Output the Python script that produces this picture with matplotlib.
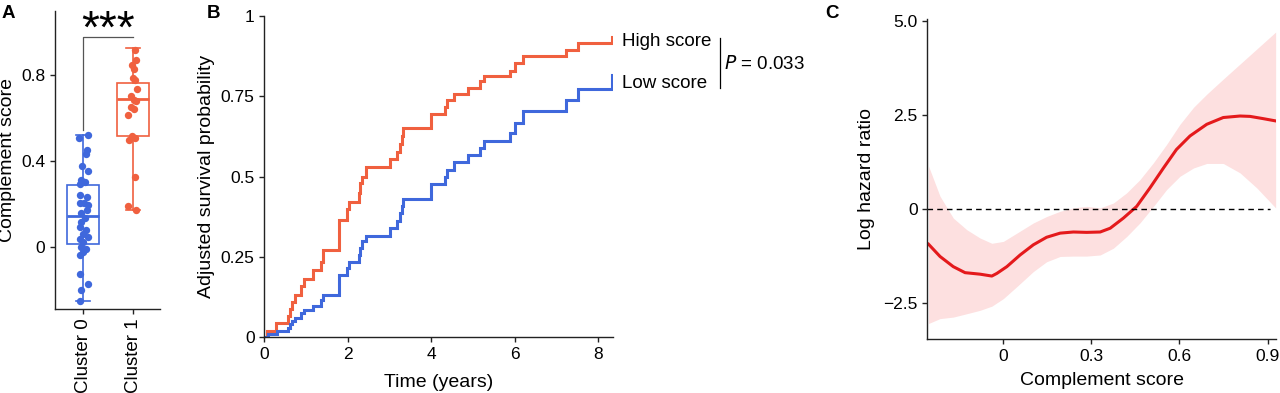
import matplotlib
matplotlib.use("Agg")
import matplotlib.pyplot as plt
import numpy as np

plt.rcParams['font.family'] = ['Liberation Sans', 'DejaVu Sans']

RED = "#F0603F"
BLUE = "#3F68DC"
CURVE_RED = "#E41A1C"
AXC = "#222222"

# ---------- Panel A data ----------
clusters = ["Cluster 0", "Cluster 1"]
c0_vals = [0.523, 0.507, 0.452, 0.434, 0.379, 0.356, 0.312, 0.304, 0.292, 0.242, 0.234,
           0.206, 0.203, 0.195, 0.172, 0.156, 0.133, 0.117, 0.094, 0.078, 0.062, 0.047,
           0.039, 0.023, 0.0, -0.012, -0.023, -0.039, -0.128, -0.175, -0.2, -0.254]
c0_jit = [0.1, -0.087, 0.08, 0.053, -0.02, 0.1, -0.047, 0.033, -0.067, -0.067, 0.08,
          -0.067, 0.013, 0.1, 0.08, -0.047, 0.033, -0.033, -0.067, 0.053, 0.0, 0.1,
          -0.067, 0.0, -0.033, 0.053, 0.0, -0.067, -0.067, 0.1, -0.033, -0.067]
c1_vals = [0.920, 0.871, 0.850, 0.832, 0.788, 0.777, 0.736, 0.705, 0.686, 0.679, 0.652,
           0.643, 0.613, 0.515, 0.507, 0.499, 0.328, 0.19, 0.172]
c1_jit = [0.033, 0.067, -0.02, 0.013, -0.007, 0.047, 0.08, -0.033, 0.013, 0.067, -0.033,
          0.013, -0.1, -0.02, 0.047, -0.087, 0.047, -0.1, 0.067]
box_stats = [
    dict(q1=0.013, med=0.142, q3=0.29, whislo=-0.253, whishi=0.524),
    dict(q1=0.519, med=0.692, q3=0.766, whislo=0.173, whishi=0.926),
]
signif = "***"

# ---------- Panel B data ----------
high_t = [0, 0.056, 0.28, 0.575, 0.615, 0.655, 0.735, 0.88, 0.95, 1.17, 1.37, 1.41, 1.80,
          1.97, 2.03, 2.26, 2.29, 2.35, 2.44, 3.01, 3.17, 3.25, 3.29, 3.33, 3.99, 4.33,
          4.37, 4.55, 4.87, 5.17, 5.27, 5.88, 6.00, 6.19, 7.24, 7.52, 8.34]
high_p = [0, 0.02, 0.044, 0.066, 0.087, 0.11, 0.13, 0.16, 0.18, 0.21, 0.235, 0.27, 0.365,
          0.40, 0.42, 0.45, 0.48, 0.50, 0.53, 0.554, 0.578, 0.60, 0.625, 0.65, 0.695,
          0.718, 0.74, 0.757, 0.777, 0.798, 0.813, 0.83, 0.853, 0.876, 0.894, 0.915, 0.934]
low_t = [0, 0.10, 0.30, 0.575, 0.615, 0.655, 0.735, 0.88, 0.95, 1.17, 1.37, 1.41, 1.80,
         1.97, 2.03, 2.26, 2.29, 2.35, 2.44, 3.01, 3.17, 3.25, 3.29, 3.33, 3.99, 4.33,
         4.37, 4.55, 4.87, 5.17, 5.27, 5.88, 6.00, 6.19, 7.24, 7.52, 8.34]
low_p = [0, 0.01, 0.018, 0.028, 0.04, 0.05, 0.06, 0.075, 0.085, 0.098, 0.116, 0.13, 0.194,
         0.215, 0.235, 0.256, 0.277, 0.298, 0.315, 0.339, 0.363, 0.386, 0.407, 0.43, 0.476,
         0.50, 0.52, 0.544, 0.567, 0.59, 0.612, 0.635, 0.668, 0.704, 0.74, 0.772, 0.816]
groups = ["High score", "Low score"]
p_text = "0.033"

# ---------- Panel C data ----------
cs_x = [-0.252, -0.213, -0.168, -0.128, -0.077, -0.037, -0.02, 0.014, 0.059, 0.104, 0.149,
        0.195, 0.24, 0.285, 0.331, 0.365, 0.41, 0.455, 0.50, 0.546, 0.59, 0.636, 0.693,
        0.749, 0.806, 0.84, 0.885, 0.927]
cs_y = [-0.934, -1.26, -1.53, -1.69, -1.73, -1.78, -1.71, -1.53, -1.22, -0.95, -0.75,
        -0.64, -0.61, -0.62, -0.61, -0.51, -0.24, 0.07, 0.56, 1.09, 1.58, 1.94, 2.25,
        2.43, 2.47, 2.46, 2.40, 2.34]
band_x = [-0.252, -0.213, -0.168, -0.122, -0.077, -0.037, 0.002, 0.048, 0.104, 0.149, 0.195,
          0.24, 0.285, 0.331, 0.376, 0.421, 0.466, 0.512, 0.557, 0.602, 0.648, 0.693, 0.749,
          0.806, 0.863, 0.927]
band_hi = [1.14, 0.34, -0.24, -0.55, -0.77, -0.91, -0.86, -0.64, -0.37, -0.20, -0.06, 0.03,
           0.07, 0.03, 0.16, 0.43, 0.78, 1.23, 1.72, 2.25, 2.70, 3.05, 3.45, 3.85, 4.25, 4.70]
band_lo = [-3.04, -2.91, -2.87, -2.78, -2.69, -2.58, -2.38, -2.06, -1.66, -1.40, -1.26, -1.25,
           -1.25, -1.22, -1.04, -0.73, -0.37, 0.07, 0.52, 0.87, 1.09, 1.21, 1.21, 0.96, 0.56, 0.03]

fig = plt.figure(figsize=(12.8, 3.93), dpi=100)

def style(ax):
    for s in ["top", "right"]:
        ax.spines[s].set_visible(False)
    for s in ["left", "bottom"]:
        ax.spines[s].set_color(AXC)
        ax.spines[s].set_linewidth(1.0)
    ax.tick_params(colors=AXC, labelcolor="black", labelsize=12.5, length=3.5, width=1.0)

# ---------- A ----------
axA = fig.add_axes([0.043, 0.2137, 0.082, 0.758])
style(axA)
cols = [BLUE, RED]
for i, (s, c) in enumerate(zip(box_stats, cols)):
    d = dict(s); d["fliers"] = []
    axA.bxp([d], positions=[i + 1], widths=0.64, capwidths=0.28, showfliers=False,
            patch_artist=True,
            boxprops=dict(facecolor="white", edgecolor=c, linewidth=1.2),
            medianprops=dict(color=c, linewidth=2.0),
            whiskerprops=dict(color=c, linewidth=1.2),
            capprops=dict(color=c, linewidth=1.2))
axA.scatter(1 + np.array(c0_jit), c0_vals, s=28, color=BLUE, zorder=3, linewidths=0)
axA.scatter(2 + np.array(c1_jit), c1_vals, s=28, color=RED, zorder=3, linewidths=0)
axA.plot([1, 1, 2], [0.543, 0.98, 0.98], color="#555555", lw=0.9)
axA.text(1.5, 0.955, signif, ha="center", va="baseline", fontsize=33,
         clip_on=False, path_effects=[])
axA.set_xlim(0.44, 2.54)
axA.set_ylim(-0.29, 1.10)
axA.set_yticks([0, 0.4, 0.8])
axA.set_yticklabels(["0", "0.4", "0.8"])
axA.set_xticks([1, 2])
axA.set_xticklabels(clusters, rotation=90, fontsize=13.5)
axA.set_ylabel("Complement score", fontsize=14, labelpad=4)

# ---------- B ----------
axB = fig.add_axes([0.2065, 0.1425, 0.2725, 0.8165])
style(axB)
axB.step(high_t, high_p, where="post", color=RED, lw=2.2, solid_joinstyle="miter")
axB.step(low_t, low_p, where="post", color=BLUE, lw=2.2, solid_joinstyle="miter")
axB.set_xlim(0, 8.36)
axB.set_ylim(0, 1)
axB.set_xticks([0, 2, 4, 6, 8])
axB.set_yticks([0, 0.25, 0.5, 0.75, 1])
axB.set_yticklabels(["0", "0.25", "0.5", "0.75", "1"])
axB.set_xlabel("Time (years)", fontsize=14, labelpad=9)
axB.set_ylabel("Adjusted survival probability", fontsize=14, labelpad=4)
fig.text(622 / 1280, 1 - 42 / 393, groups[0], fontsize=13.5, va="center", ha="left")
fig.text(622 / 1280, 1 - 83 / 393, groups[1], fontsize=13.5, va="center", ha="left")
fig.add_artist(plt.Line2D([720 / 1280, 720 / 1280], [1 - 38 / 393, 1 - 88 / 393],
                          color="black", lw=0.9))
fig.text(724 / 1280, 1 - 64 / 393, r"$\it{P}$ = " + p_text, fontsize=13.5, va="center", ha="left")

# ---------- C ----------
axC = fig.add_axes([0.7245, 0.1366, 0.2721, 0.8154])
style(axC)
axC.fill_between(band_x, band_lo, band_hi, color="#FDE0E0", linewidth=0)
axC.plot(cs_x, cs_y, color=CURVE_RED, lw=2.2)
axC.axhline(0, color="black", lw=1.0, ls=(0, (4, 3)), xmax=0.985)
axC.set_xlim(-0.256, 0.927)
axC.set_ylim(-3.46, 5.05)
axC.set_xticks([0, 0.3, 0.6, 0.9])
axC.set_xticklabels(["0", "0.3", "0.6", "0.9"])
axC.set_yticks([-2.5, 0, 2.5, 5.0])
axC.set_yticklabels(["\u22122.5", "0", "2.5", "5.0"])
axC.set_xlabel("Complement score", fontsize=14, labelpad=6)
axC.set_ylabel("Log hazard ratio", fontsize=14, labelpad=6)

fig.text(2 / 1280, 1 - 13 / 393, "A", fontsize=13.5, fontweight="bold", va="center")
fig.text(207 / 1280, 1 - 13 / 393, "B", fontsize=13.5, fontweight="bold", va="center")
fig.text(825 / 1280, 1 - 13 / 393, "C", fontsize=13.5, fontweight="bold", va="center")

fig.savefig("out.png", dpi=100)
